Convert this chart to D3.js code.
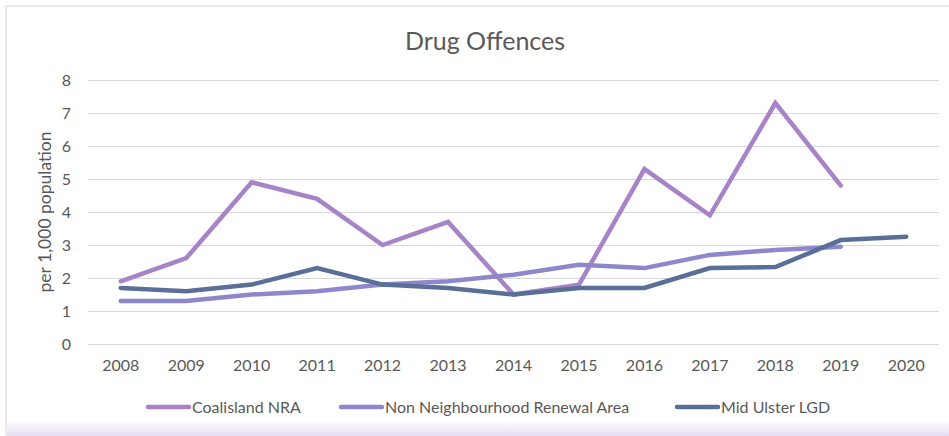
<!DOCTYPE html>
<html>
<head>
<meta charset="utf-8">
<script src="https://cdn.jsdelivr.net/npm/d3@7"></script>
<style>
  body { margin: 0; background: #fff; }
  svg { display: block; font-family: Lato, "Open Sans", sans-serif; }
</style>
</head>
<body>
<div class="chart"></div>
<script>
var years = ["2008","2009","2010","2011","2012","2013","2014","2015","2016","2017","2018","2019","2020"];
var coalisland = [1.9, 2.6, 4.9, 4.4, 3.0, 3.7, 1.5, 1.8, 5.3, 3.9, 7.3, 4.8, null];
var nonNRA = [1.3, 1.3, 1.5, 1.6, 1.8, 1.9, 2.1, 2.4, 2.3, 2.7, 2.85, 2.95, null];
var midUlster = [1.7, 1.6, 1.8, 2.3, 1.8, 1.7, 1.5, 1.7, 1.7, 2.3, 2.33, 3.15, 3.25];
var yTicks = [0, 1, 2, 3, 4, 5, 6, 7, 8];

var seriesNames = ["Coalisland NRA", "Non Neighbourhood Renewal Area", "Mid Ulster LGD"];
var seriesValues = [coalisland, nonNRA, midUlster];
var colors = ["#a883c7", "#8d88cc", "#5a6f97"];

var W = 949, H = 436;
var margin = {top: 80, right: 10, bottom: 92, left: 88};

var svg = d3.select(".chart")
            .append("svg")
            .attr("width", W)
            .attr("height", H);

// lavender band at the bottom
var grad = svg.append("defs").append("linearGradient")
    .attr("id", "fade").attr("x1", 0).attr("y1", 0).attr("x2", 0).attr("y2", 1);
grad.append("stop").attr("offset", "0%").attr("stop-color", "#ffffff");
grad.append("stop").attr("offset", "100%").attr("stop-color", "#e6dcf0");

svg.append("rect")
    .attr("x", 6).attr("y", 6)
    .attr("width", W + 10).attr("height", H)
    .attr("fill", "#fff")
    .attr("stroke", "#d9d9d9");

svg.append("rect")
    .attr("x", 7).attr("y", 420)
    .attr("width", W).attr("height", 16)
    .attr("fill", "url(#fade)");

var x = d3.scaleBand()
    .domain(years)
    .range([margin.left, W - margin.right]);

var y = d3.scaleLinear()
    .domain([0, 8])
    .range([H - margin.bottom, margin.top]);

// gridlines
svg.append("g")
    .selectAll("line")
    .data(yTicks)
    .enter()
    .append("line")
    .attr("x1", margin.left)
    .attr("x2", W - margin.right)
    .attr("y1", function(d) { return Math.round(y(d)) + 0.5; })
    .attr("y2", function(d) { return Math.round(y(d)) + 0.5; })
    .attr("stroke", "#d9d9d9")
    .attr("stroke-width", 1);

// y axis labels
var yAxis = d3.axisLeft(y).tickValues(yTicks).tickSize(0).tickPadding(0);
svg.append("g")
    .attr("transform", "translate(" + (margin.left - 17) + ",0)")
    .call(yAxis)
    .call(function(g) { g.select(".domain").remove(); })
    .selectAll("text")
    .attr("font-size", 16)
    .attr("font-family", "Lato, sans-serif")
    .attr("fill", "#595959");

// x axis labels
var xAxis = d3.axisBottom(x).tickSize(0).tickPadding(0);
svg.append("g")
    .attr("transform", "translate(0," + (H - margin.bottom + 16) + ")")
    .call(xAxis)
    .call(function(g) { g.select(".domain").remove(); })
    .selectAll("text")
    .attr("font-size", 16)
    .attr("font-family", "Lato, sans-serif")
    .attr("fill", "#595959");

// y axis title
svg.append("text")
    .attr("transform", "translate(51," + ((margin.top + H - margin.bottom) / 2) + ") rotate(-90)")
    .attr("text-anchor", "middle")
    .attr("font-size", 17.5)
    .attr("fill", "#595959")
    .text("per 1,000 population");

// title
svg.append("text")
    .attr("x", 485)
    .attr("y", 50)
    .attr("text-anchor", "middle")
    .attr("font-size", 25)
    .attr("fill", "#595959")
    .text("Drug Offences");

var line = d3.line()
    .defined(function(d) { return d != null; })
    .x(function(d, i) { return x(years[i]) + x.bandwidth() / 2; })
    .y(function(d) { return y(d); });

svg.append("g")
    .selectAll("path")
    .data(seriesValues)
    .enter()
    .append("path")
    .attr("d", line)
    .attr("fill", "none")
    .attr("stroke", function(d, i) { return colors[i]; })
    .attr("stroke-width", 4.5)
    .attr("stroke-linejoin", "miter")
    .attr("stroke-linecap", "round");

// legend
var legendX = [148, 341, 677];
var legend = svg.append("g")
    .selectAll("g")
    .data(seriesNames)
    .enter()
    .append("g")
    .attr("transform", function(d, i) { return "translate(" + legendX[i] + ",407)"; });

legend.append("line")
    .attr("x1", 0).attr("x2", 41)
    .attr("y1", 0).attr("y2", 0)
    .attr("stroke", function(d, i) { return colors[i]; })
    .attr("stroke-width", 4.5)
    .attr("stroke-linecap", "round");

legend.append("text")
    .attr("x", 44)
    .attr("y", 6)
    .attr("font-size", 16)
    .attr("fill", "#595959")
    .text(function(d) { return d; });
</script>
</body>
</html>
